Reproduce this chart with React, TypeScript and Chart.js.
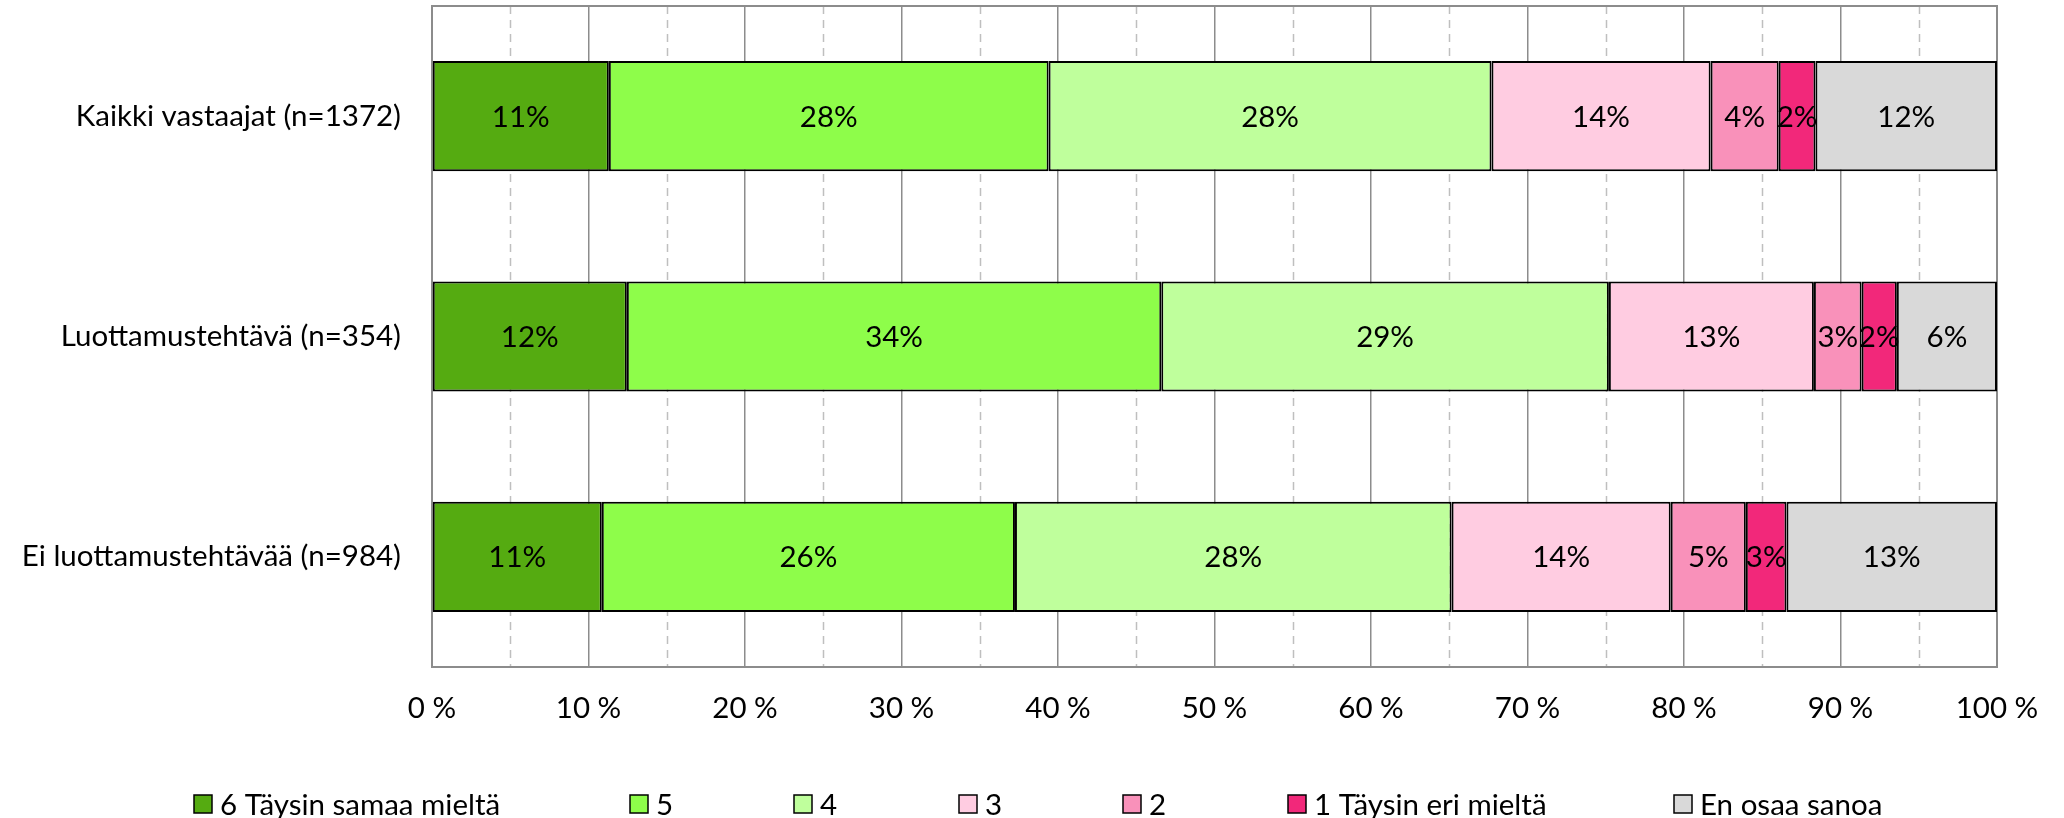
import React, { useEffect, useRef } from "react";
import { Chart, registerables } from "chart.js";

Chart.register(...registerables);

const CATEGORIES = [
  "Kaikki vastaajat (n=1372)",
  "Luottamustehtävä (n=354)",
  "Ei luottamustehtävää (n=984)",
];

const SERIES = [
  "6 Täysin samaa mieltä",
  "5",
  "4",
  "3",
  "2",
  "1 Täysin eri mieltä",
  "En osaa sanoa",
];

const COLORS = ["#55AB11", "#8EFD4A", "#BFFF9C", "#FFCCE1", "#F991BA", "#F2287A", "#D9D9D9"];

// values per category, in order of SERIES (percent)
const KAIKKI = [11.3, 28.1, 28.3, 14.0, 4.35, 2.35, 11.6];
const LUOTTAMUS = [12.45, 34.15, 28.6, 13.1, 3.05, 2.25, 6.4];
const EI_LUOTTAMUS = [10.85, 26.4, 27.9, 14.0, 4.8, 2.6, 13.45];

const X_MIN = 0;
const X_MAX = 100;
const X_STEP = 10;

const FONT = "Lato, 'Open Sans', sans-serif";
const FONT_SIZE = 29.5;

// legend box left edges (layout only)
const LEGEND_X = [194, 630, 794, 959, 1123, 1288, 1674];
const LEGEND_Y = 804;

export default function App() {
  const ref = useRef<HTMLCanvasElement | null>(null);

  useEffect(() => {
    document.body.style.margin = "0";
    const canvas = ref.current;
    if (!canvas) return;

    const rows = [KAIKKI, LUOTTAMUS, EI_LUOTTAMUS];
    const datasets = SERIES.map((name, j) => ({
      label: name,
      data: rows.map((r) => r[j]),
      backgroundColor: COLORS[j],
      borderColor: "#000000",
      borderWidth: 2,
      borderSkipped: false,
      barPercentage: 0.5,
      categoryPercentage: 1,
    }));

    const gridPlugin = {
      id: "minorGridAndFrame",
      beforeDatasetsDraw(chart: any) {
        const { ctx, chartArea } = chart;
        const xs = chart.scales.x;
        ctx.save();
        ctx.strokeStyle = "#BFBFBF";
        ctx.lineWidth = 1.5;
        ctx.setLineDash([8, 6]);
        for (let v = X_MIN + X_STEP / 2; v < X_MAX; v += X_STEP) {
          const px = Math.round(xs.getPixelForValue(v)) + 0.5;
          ctx.beginPath();
          ctx.moveTo(px, chartArea.top);
          ctx.lineTo(px, chartArea.bottom);
          ctx.stroke();
        }
        ctx.setLineDash([]);
        ctx.strokeStyle = "#8C8C8C";
        ctx.lineWidth = 2;
        ctx.strokeRect(chartArea.left, chartArea.top, chartArea.right - chartArea.left, chartArea.bottom - chartArea.top);
        ctx.restore();
      },
      afterDatasetsDraw(chart: any) {
        const { ctx } = chart;
        ctx.save();
        ctx.font = `${FONT_SIZE}px ${FONT}`;
        ctx.fillStyle = "#000000";
        ctx.textAlign = "center";
        ctx.textBaseline = "middle";
        chart.data.datasets.forEach((ds: any, di: number) => {
          const meta = chart.getDatasetMeta(di);
          meta.data.forEach((el: any, i: number) => {
            const v = ds.data[i];
            const cx = (el.x + el.base) / 2;
            ctx.fillText(Math.round(v) + "%", cx, el.y + 1);
          });
        });
        ctx.restore();
      },
      afterDraw(chart: any) {
        const { ctx } = chart;
        ctx.save();
        ctx.font = `${FONT_SIZE}px ${FONT}`;
        ctx.textBaseline = "middle";
        ctx.textAlign = "left";
        SERIES.forEach((name, j) => {
          const x = LEGEND_X[j];
          ctx.fillStyle = COLORS[j];
          ctx.fillRect(x, LEGEND_Y - 9, 18, 18);
          ctx.strokeStyle = "#000000";
          ctx.lineWidth = 1.5;
          ctx.strokeRect(x, LEGEND_Y - 9, 18, 18);
          ctx.fillStyle = "#000000";
          ctx.fillText(name, x + 26, LEGEND_Y + 1);
        });
        ctx.restore();
      },
    };

    const chart = new Chart(canvas, {
      type: "bar",
      data: { labels: CATEGORIES, datasets },
      options: {
        indexAxis: "y",
        responsive: false,
        animation: false,
        devicePixelRatio: 1,
        layout: { padding: { top: 6, right: 67, left: 0, bottom: 0 } },
        plugins: { legend: { display: false }, tooltip: { enabled: false } },
        scales: {
          x: {
            stacked: true,
            min: X_MIN,
            max: X_MAX,
            ticks: {
              stepSize: X_STEP,
              callback: (v: any) => v + " %",
              font: { family: FONT, size: FONT_SIZE },
              color: "#000000",
              padding: 24,
              maxRotation: 0,
              autoSkip: false,
            },
            grid: { color: "#8C8C8C", lineWidth: 1.5, drawTicks: false },
            border: { display: false },
            afterFit: (s: any) => {
              s.height = 151;
              s.paddingLeft = 0;
              s.paddingRight = 0;
            },
          },
          y: {
            stacked: true,
            ticks: {
              font: { family: FONT, size: FONT_SIZE },
              color: "#000000",
              padding: 31,
            },
            grid: { display: false, drawTicks: false },
            border: { display: false },
            afterFit: (s: any) => {
              s.width = 432;
              s.paddingTop = 0;
              s.paddingBottom = 0;
            },
          },
        },
      } as any,
      plugins: [gridPlugin],
    });

    return () => chart.destroy();
  }, []);

  return (
    <div style={{ width: 2064, height: 818, background: "#ffffff" }}>
      <canvas ref={ref} width={2064} height={818} style={{ display: "block" }} />
    </div>
  );
}
